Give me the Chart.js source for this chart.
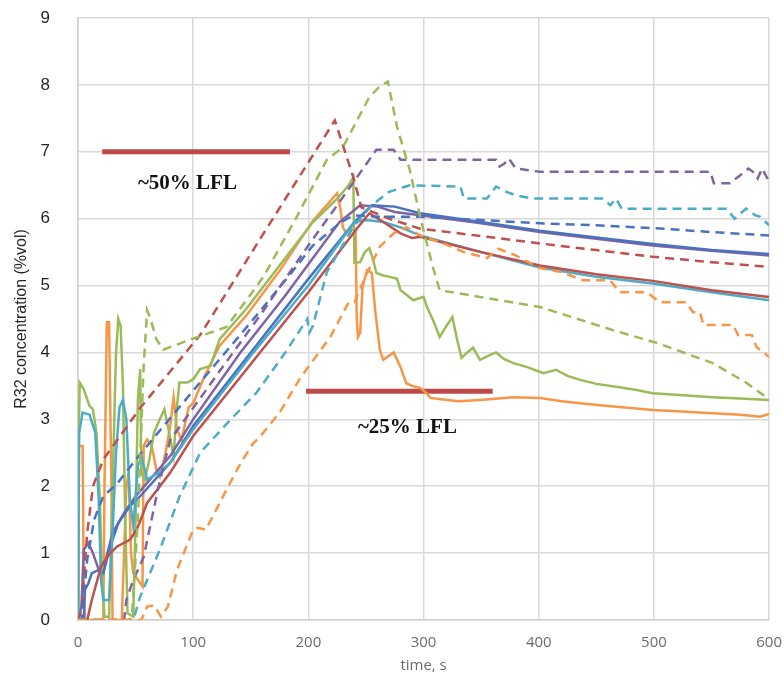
<!DOCTYPE html>
<html>
<head>
<meta charset="utf-8">
<script src="https://cdn.jsdelivr.net/npm/chart.js@4"></script>
<style>
  html, body { margin: 0; padding: 0; background: #fff; }
  #wrap { width: 784px; height: 680px; }
</style>
</head>
<body>
<div id="wrap"><canvas id="r32Chart" width="784" height="680"></canvas></div>
<script>
// time (s), R32 concentration (%vol)
const solidGreen = [[0,0],[0.5,2.6],[1.5,3.55],[5,3.45],[10,3.2],[13,3.15],[16,2.8],[19,1.8],[21,0.6],[23,0.05],[27,0.05],[30,2.0],[33,4.0],[35,4.5],[37,4.4],[39,3.5],[41,1.5],[43,0.1],[48,0.05],[50,1.5],[52,3.3],[54,3.75],[55,2.2],[58,2.1],[62,2.4],[66,2.8],[71,3.0],[75,3.15],[78,2.9],[83,2.45],[86,3.2],[88,3.55],[95,3.55],[100,3.6],[106,3.75],[115,3.8],[123,4.2],[146,4.65],[175,5.3],[204,5.95],[225,6.3],[235,6.5],[239,6.62],[240,5.34],[245,5.35],[249,5.5],[253,5.56],[256,5.4],[259,5.19],[265,5.15],[271,5.13],[277,5.1],[280,4.93],[286,4.85],[291,4.78],[300,4.83],[303,4.68],[309,4.45],[314,4.23],[320,4.4],[325,4.53],[329,4.2],[333,3.92],[338,4.0],[343,4.07],[349,3.89],[356,3.95],[363,4.0],[370,3.9],[378,3.84],[390,3.78],[404,3.69],[415,3.74],[425,3.65],[436,3.59],[450,3.53],[470,3.48],[485,3.44],[499,3.39],[525,3.36],[551,3.33],[575,3.31],[600,3.29]];
const solidOrange = [[0,0],[0.5,2.6],[4,2.6],[5,0.5],[6,0],[22,0],[23,2.0],[25,4.45],[27,4.45],[29,2.0],[30,0],[38,0],[40,1.0],[42,2.0],[44,2.2],[46,1.0],[48,0.7],[52,0.6],[56,0.5],[57,2.6],[60,2.7],[64,2.6],[68,2.25],[71,2.14],[76,2.5],[80,2.89],[83,3.33],[86,2.84],[90,2.69],[96,3.18],[100,3.24],[110,3.65],[123,4.1],[146,4.55],[175,5.22],[204,5.97],[225,6.38],[228,6.13],[230,5.87],[233,5.78],[236,5.85],[239,5.9],[241,5.8],[242,4.5],[243,4.23],[245,4.3],[247,4.98],[251,5.23],[255,5.19],[258,4.63],[262,4.04],[265,3.89],[270,3.95],[274,4.0],[280,3.78],[285,3.54],[290,3.5],[297,3.47],[302,3.4],[306,3.32],[315,3.3],[330,3.27],[349,3.29],[365,3.31],[378,3.33],[401,3.32],[420,3.27],[436,3.24],[460,3.2],[480,3.17],[499,3.14],[520,3.12],[551,3.09],[575,3.07],[592,3.04],[600,3.08]];
const solidPurple = [[0,0],[3,0.2],[5,1.05],[9,1.15],[13,1.0],[18,0.75],[24,0.9],[30,1.3],[40,1.6],[50,1.85],[60,2.05],[80,2.45],[100,3.0],[141,4.0],[180,4.85],[227,5.95],[245,6.2],[260,6.18],[275,6.1],[297,6.05],[350,5.93],[401,5.8],[450,5.7],[499,5.6],[550,5.52],[600,5.45]];
const solidBlue = [[0,0],[5,0],[6,0.45],[9,0.55],[12,0.7],[18,0.75],[22,0.7],[28,1.1],[35,1.45],[45,1.7],[54,1.85],[80,2.35],[100,2.9],[150,4.0],[200,5.1],[240,5.95],[255,6.2],[275,6.18],[297,6.08],[350,5.95],[401,5.82],[450,5.72],[499,5.62],[550,5.53],[600,5.47]];
const solidCyan = [[0,0],[1,2.8],[4,3.1],[10,3.07],[15,2.8],[18,1.8],[20,0.6],[22,0.3],[27,0.3],[30,1.3],[33,2.5],[36,3.18],[39,3.29],[42,3.0],[45,1.8],[48,1.4],[52,2.3],[55,2.45],[60,2.1],[70,2.2],[80,2.35],[100,2.85],[150,3.95],[200,5.0],[240,5.95],[250,5.98],[265,5.95],[280,5.87],[297,5.75],[350,5.5],[401,5.27],[450,5.13],[499,5.03],[550,4.9],[600,4.78]];
const solidRed = [[0,0],[8,0],[12,0.3],[20,0.8],[28,1.0],[34,1.1],[45,1.2],[51,1.35],[60,1.75],[80,2.2],[100,2.75],[158,4.0],[200,4.9],[242,5.85],[253,6.08],[265,5.95],[280,5.78],[290,5.71],[297,5.73],[350,5.5],[401,5.3],[450,5.17],[499,5.07],[550,4.93],[600,4.83]];

const dashRed = [[0,0],[3,0.15],[8,1.3],[13,2.0],[22,2.4],[54,3.17],[106,4.26],[160,5.75],[223,7.47],[239,6.62],[246,6.17],[270,6.0],[297,5.85],[350,5.74],[401,5.63],[450,5.53],[499,5.43],[550,5.35],[600,5.28]];
const dashBlue = [[0,0],[3,0],[8,0.9],[14,1.5],[22,1.85],[34,2.04],[55,2.5],[100,3.43],[150,4.45],[181,5.1],[204,5.6],[227,5.93],[239,6.05],[260,6.03],[297,6.03],[350,5.98],[401,5.93],[450,5.9],[499,5.86],[550,5.8],[600,5.75]];
const dashPurple = [[0,0],[40,0],[42,0.3],[48,0.6],[57,0.94],[62,1.35],[70,2.0],[80,2.69],[120,3.65],[160,4.6],[200,5.6],[225,6.2],[259,7.03],[274,7.03],[280,6.88],[330,6.88],[363,6.88],[366,6.78],[370,6.82],[374,6.9],[380,6.75],[401,6.7],[450,6.7],[500,6.7],[549,6.7],[552,6.53],[566,6.53],[575,6.65],[582,6.75],[586,6.7],[590,6.6],[594,6.75],[600,6.55]];
const dashCyan = [[0,0],[48,0],[54,0.35],[71,1.05],[88,1.84],[106,2.5],[130,2.95],[155,3.4],[180,4.0],[199,4.5],[201,4.3],[204,4.4],[216,5.2],[240,5.9],[255,6.2],[270,6.4],[288,6.5],[332,6.48],[335,6.3],[355,6.3],[363,6.48],[372,6.4],[380,6.35],[395,6.3],[456,6.3],[462,6.2],[467,6.3],[472,6.15],[563,6.15],[570,6.0],[580,6.15],[588,6.05],[592,6.03],[600,5.9]];
const dashGreen = [[0,0],[45,0],[47,0.1],[52,1.5],[57,3.8],[60,4.63],[63,4.5],[68,4.2],[74,4.04],[97,4.19],[129,4.38],[161,5.13],[190,6.03],[216,6.88],[230,7.07],[253,7.82],[262,7.98],[269,8.05],[277,7.37],[288,6.73],[297,6.03],[308,5.28],[314,4.93],[349,4.83],[401,4.68],[465,4.33],[503,4.14],[551,3.84],[580,3.55],[600,3.3]];
const dashOrange = [[0,0],[55,0],[60,0.2],[66,0.22],[72,0.05],[78,0.2],[86,0.75],[100,1.35],[104,1.38],[111,1.35],[129,1.95],[141,2.34],[152,2.64],[157,2.72],[175,3.1],[193,3.62],[219,4.23],[235,4.75],[240,4.75],[251,5.19],[262,5.58],[274,5.78],[285,5.87],[297,5.75],[317,5.63],[335,5.5],[355,5.41],[365,5.55],[380,5.45],[401,5.26],[420,5.2],[438,5.08],[462,5.08],[470,4.9],[494,4.9],[505,4.75],[528,4.75],[534,4.6],[540,4.6],[543,4.41],[569,4.41],[573,4.26],[585,4.26],[589,4.08],[600,3.93]];

// LFL marker bars and their captions
const lfl50 = [[21,7.0],[184,7.0]];
const lfl25 = [[198,3.42],[360,3.42]];
const noteLabels = ['~50% LFL', '~25% LFL'];
const noteAt = [[95,6.53],[286,2.88]];

const xTicks = [0,100,200,300,400,500,600];
const yTicks = [0,1,2,3,4,5,6,7,8,9];

// ---------------------------------------------------------------
const C = {
  blue: '#4a72c0', red: '#c0504d', green: '#9bbb59',
  purple: '#8064a2', cyan: '#4bacc6', orange: '#f79646'
};

function pts(arr) { return arr.map(p => ({ x: p[0], y: p[1] })); }

function line(arr, color, dashed) {
  return {
    data: pts(arr),
    borderColor: color,
    borderWidth: 2.5,
    borderDash: dashed ? [9, 6] : [],
    pointRadius: 0,
    tension: 0,
    fill: false
  };
}

function bar(arr) {
  return {
    data: pts(arr),
    borderColor: '#bd4a48',
    borderWidth: 5,
    pointRadius: 0,
    borderCapStyle: 'butt'
  };
}

const datasets = [
  line(dashOrange, C.orange, true),
  line(dashGreen, C.green, true),
  line(dashCyan, C.cyan, true),
  line(dashPurple, C.purple, true),
  line(dashBlue, C.blue, true),
  line(dashRed, C.red, true),
  line(solidRed, C.red, false),
  line(solidCyan, C.cyan, false),
  line(solidBlue, C.blue, false),
  line(solidPurple, C.purple, false),
  line(solidGreen, C.green, false),
  line(solidOrange, C.orange, false),
  bar(lfl50),
  bar(lfl25)
];

// captions drawn in data space
const notePlugin = {
  id: 'notes',
  afterDatasetsDraw(chart) {
    const c = chart.ctx;
    const xs = chart.scales.x, ys = chart.scales.y;
    c.save();
    c.font = 'bold 21px "Liberation Serif"';
    c.fillStyle = '#111';
    c.textAlign = 'center';
    c.textBaseline = 'middle';
    noteLabels.forEach((txt, i) => {
      c.fillText(txt, xs.getPixelForValue(noteAt[i][0]), ys.getPixelForValue(noteAt[i][1]));
    });
    c.restore();
  }
};

const ctx = document.getElementById('r32Chart').getContext('2d');
new Chart(ctx, {
  type: 'line',
  data: { datasets: datasets },
  plugins: [notePlugin],
  options: {
    responsive: false,
    animation: false,
    layout: { padding: { top: 18, right: 0, left: 0, bottom: 0 } },
    plugins: { legend: { display: false }, tooltip: { enabled: false } },
    scales: {
      x: {
        type: 'linear', min: 0, max: 600,
        afterBuildTicks: s => { s.ticks = xTicks.map(v => ({ value: v })); },
        afterFit: s => { s.height = 60; },
        grid: { color: '#d9d9d9', lineWidth: 1.5, drawTicks: true, tickLength: 12, tickColor: 'rgba(0,0,0,0)' },
        border: { color: '#d0d0d0', width: 1.5 },
        ticks: { padding: 2, color: '#6b6b6b', font: { family: '"Open Sans"', size: 15 }, maxRotation: 0 },
        title: { display: true, text: 'time, s', color: '#6b6b6b', font: { family: '"Open Sans"', size: 15 }, padding: { top: 0, bottom: 5 } }
      },
      y: {
        min: 0, max: 9,
        afterBuildTicks: s => { s.ticks = yTicks.map(v => ({ value: v })); },
        afterFit: s => { s.width = 78; },
        grid: { color: '#d9d9d9', lineWidth: 1.5, drawTicks: true, tickLength: 26, tickColor: 'rgba(0,0,0,0)' },
        border: { color: '#d0d0d0', width: 1.5 },
        ticks: { padding: 2, color: '#262626', font: { family: '"Liberation Sans"', size: 17 } },
        title: { display: true, text: 'R32 concentration (%vol)', color: '#262626', font: { family: '"Liberation Sans"', size: 16 }, padding: { top: 12, bottom: 0 } }
      }
    }
  }
});
</script>
</body>
</html>
